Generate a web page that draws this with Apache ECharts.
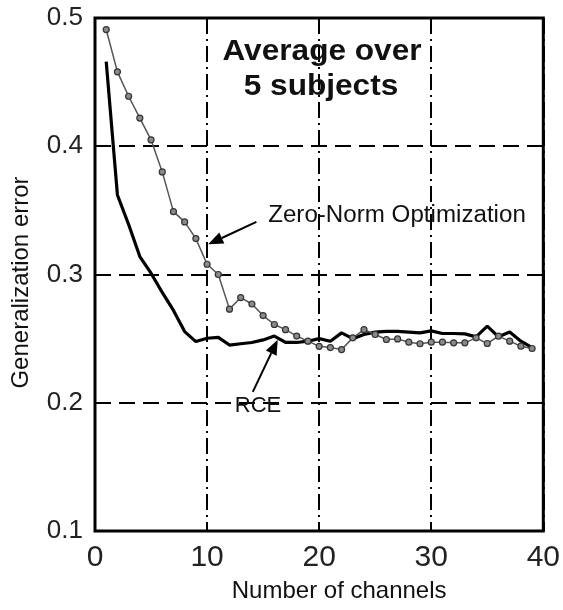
<!DOCTYPE html>
<html><head><meta charset="utf-8">
<script src="https://cdn.jsdelivr.net/npm/echarts@6/dist/echarts.min.js"></script>
<style>html,body{margin:0;padding:0;background:#fff}#c{width:563px;height:610px}</style>
</head><body><div id="c"></div>
<script>
const channels = [1,2,3,4,5,6,7,8,9,10,11,12,13,14,15,16,17,18,19,20,21,22,23,24,25,26,27,28,29,30,31,32,33,34,35,36,37,38,39];
const zeroNorm = [0.491,0.458,0.439,0.422,0.405,0.380,0.349,0.341,0.328,0.308,
                  0.300,0.273,0.282,0.277,0.268,0.261,0.257,0.252,0.248,0.244,
                  0.243,0.2415,0.2506,0.257,0.2532,0.2493,0.2498,0.2472,0.246,0.2472,
                  0.2472,0.2467,0.2467,0.2506,0.2462,0.2519,0.248,0.2441,0.2423];
const rce = [0.466,0.362,0.339,0.314,0.301,0.286,0.272,0.2555,0.2477,0.2503,
             0.251,0.245,0.246,0.247,0.249,0.252,0.247,0.247,0.248,0.250,
             0.248,0.2545,0.250,0.2532,0.2551,0.2556,0.2556,0.2551,0.2545,0.256,
             0.254,0.254,0.2537,0.2514,0.2597,0.2514,0.2551,0.248,0.243];
const xRange = [0, 40];
const yRange = [0.1, 0.5];
const titleLines = ['Average over', '5 subjects'];
const zeroNormLabel = 'Zero-Norm Optimization';
const rceLabel = 'RCE';
const xName = 'Number of channels';
const yName = 'Generalization error';
// arrow anchors in data space: [tail, tip]
const zeroNormArrow = [[14.4, 0.341], [10.1, 0.3235]];
const rceArrow = [[14.08, 0.2085], [16.3, 0.2492]];

const FONT = '"Liberation Sans", Arial, sans-serif';
const chart = echarts.init(document.getElementById('c'), null, {renderer: 'canvas'});

const option = {
  animation: false,
  backgroundColor: '#fff',
  grid: {left: 95, right: 19, top: 18, bottom: 79, show: true, borderColor: '#000', borderWidth: 3, backgroundColor: 'transparent'},
  xAxis: {
    type: 'value', min: xRange[0], max: xRange[1], interval: 10,
    name: xName, nameLocation: 'middle', nameGap: 48,
    nameTextStyle: {fontFamily: FONT, fontSize: 24, color: '#111', padding: [0, 0, 0, 40]},
    axisLine: {show: false}, axisTick: {show: false},
    axisLabel: {fontFamily: FONT, fontSize: 30, color: '#222', margin: 12},
    splitLine: {show: true, lineStyle: {color: '#000', width: 2, type: [16, 5, 2, 5]}}
  },
  yAxis: {
    type: 'value', min: yRange[0], max: yRange[1], interval: 0.1,
    name: yName, nameLocation: 'middle', nameGap: 62,
    nameTextStyle: {fontFamily: FONT, fontSize: 24, color: '#111', padding: [0, 16, 0, 0]},
    axisLine: {show: false}, axisTick: {show: false},
    axisLabel: {fontFamily: FONT, fontSize: 26, color: '#222', margin: 12, formatter: v => v.toFixed(1)},
    splitLine: {show: true, lineStyle: {color: '#000', width: 2, type: [16, 8]}}
  },
  series: [
    {
      name: 'RCE', type: 'line', data: channels.map((c, i) => [c, rce[i]]),
      showSymbol: false, lineStyle: {color: '#000', width: 3.2}, z: 3
    },
    {
      name: 'Zero-Norm Optimization', type: 'line', data: channels.map((c, i) => [c, zeroNorm[i]]),
      symbol: 'circle', symbolSize: 6, showSymbol: true,
      itemStyle: {color: '#8a8a8a', borderColor: '#333', borderWidth: 1.2},
      lineStyle: {color: '#555', width: 1.5}, z: 4
    }
  ]
};
chart.setOption(option);

function arrow(pair) {
  const a = chart.convertToPixel({gridIndex: 0}, pair[0]);
  const b = chart.convertToPixel({gridIndex: 0}, pair[1]);
  const dx = b[0] - a[0], dy = b[1] - a[1];
  const L = Math.hypot(dx, dy), ux = dx / L, uy = dy / L;
  const hl = 15, hw = 6;
  const bx = b[0] - ux * hl, by = b[1] - uy * hl;
  return [
    {type: 'line', shape: {x1: a[0], y1: a[1], x2: bx, y2: by}, style: {stroke: '#000', lineWidth: 2}, z: 10},
    {type: 'polygon', shape: {points: [[b[0], b[1]], [bx - uy * hw, by + ux * hw], [bx + uy * hw, by - ux * hw]]}, style: {fill: '#000'}, z: 10}
  ];
}

chart.setOption({
  graphic: [
    {type: 'text', x: 322, y: 52, scaleX: 1.09, z: 10, style: {text: titleLines[0], font: 'bold 29px ' + FONT, fill: '#111', align: 'center', verticalAlign: 'middle'}},
    {type: 'text', x: 321, y: 87, scaleX: 1.09, z: 10, style: {text: titleLines[1], font: 'bold 29px ' + FONT, fill: '#111', align: 'center', verticalAlign: 'middle'}},
    {type: 'text', x: 397, y: 216, scaleX: 1.05, z: 10, style: {text: zeroNormLabel, font: '23px ' + FONT, fill: '#111', align: 'center', verticalAlign: 'middle'}},
    {type: 'text', x: 258, y: 406, z: 10, style: {text: rceLabel, font: '22px ' + FONT, fill: '#111', align: 'center', verticalAlign: 'middle'}},
    ...arrow(zeroNormArrow),
    ...arrow(rceArrow)
  ]
});
</script>
</body></html>
